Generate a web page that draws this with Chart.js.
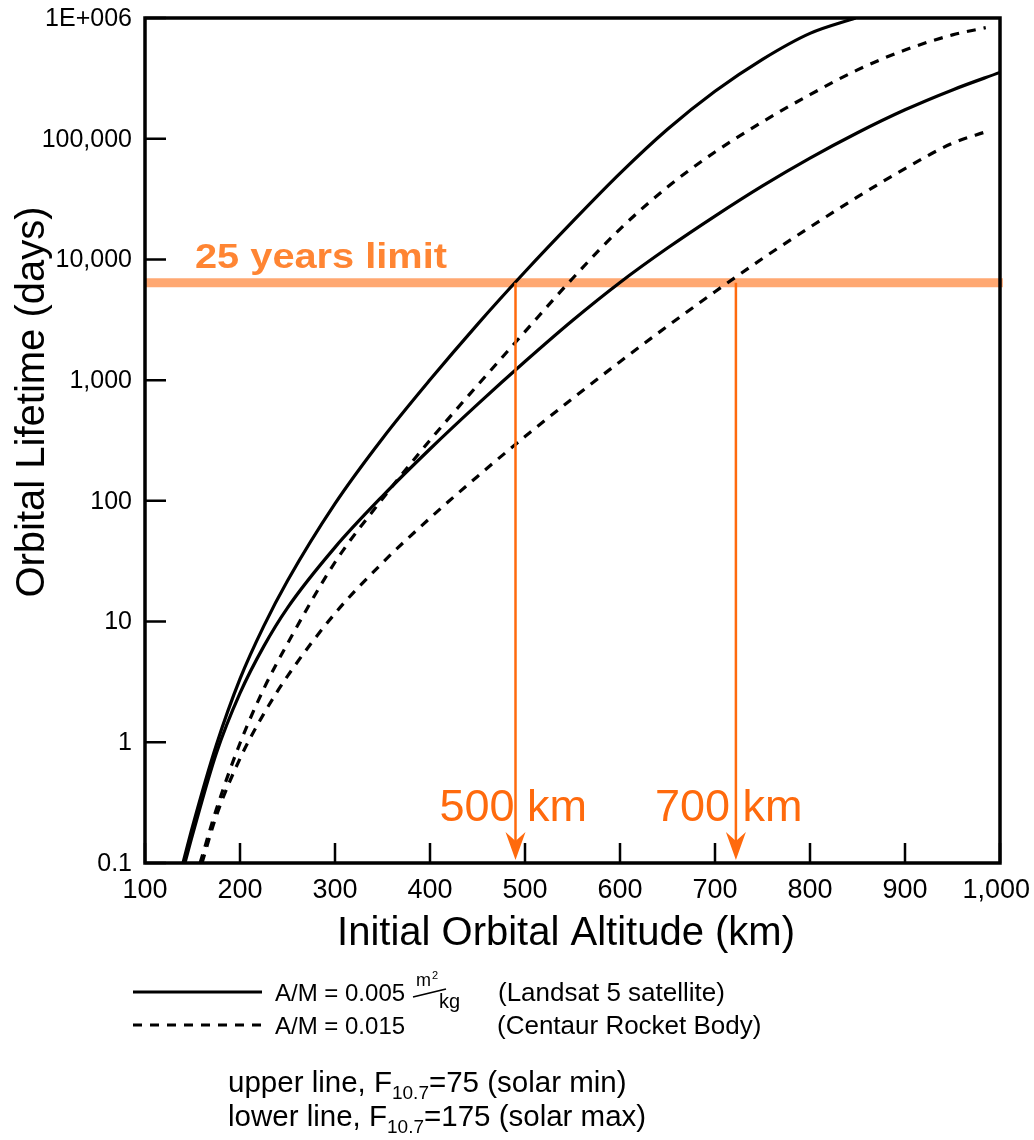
<!DOCTYPE html>
<html>
<head>
<meta charset="utf-8">
<title>Orbital Lifetime vs Initial Altitude</title>
<script src="https://cdn.jsdelivr.net/npm/chart.js@4.4.1/dist/chart.umd.min.js"></script>
<style>
  html, body { margin: 0; padding: 0; background: #fff; }
</style>
</head>
<body>
<canvas id="lifetimeChart" width="1034" height="1140"></canvas>
<script>
// Orbital lifetime (days) against initial altitude (km)
// A/M = 0.005 m2/kg (Landsat 5), solar min (upper) and solar max (lower)
const altLandsatMin = [140, 150, 175, 200, 225, 250, 300, 350, 400, 450, 500, 550, 600, 650, 700, 750, 800, 848];
const daysLandsatMin = [0.1, 0.2, 0.944, 3.35, 9.17, 21.8, 94.9, 329, 1006, 2900, 7900, 20540, 51580, 119600, 246900, 454500, 745700, 1000000];
const altLandsatMax = [142, 150, 175, 200, 225, 250, 300, 350, 400, 450, 500, 550, 600, 650, 700, 750, 800, 850, 900, 950, 1000];
const daysLandsatMax = [0.1, 0.171, 0.807, 2.55, 6.23, 13.0, 41.2, 109.5, 269, 630, 1427, 3122, 6449, 12430, 22880, 40690, 69090, 112100, 173600, 253800, 354400];

// A/M = 0.015 (Centaur rocket body)
const altCentaurMin = [158, 175, 200, 225, 250, 300, 350, 400, 450, 500, 550, 600, 650, 700, 750, 800, 850, 900, 950, 985];
const daysCentaurMin = [0.1, 0.277, 0.982, 2.77, 6.56, 31.0, 104, 318, 906, 2523, 6950, 17860, 39810, 77620, 138000, 231700, 371500, 543300, 724400, 831800];
const altCentaurMax = [160, 175, 200, 225, 250, 300, 350, 400, 450, 500, 550, 600, 650, 700, 750, 800, 850, 900, 950, 986];
const daysCentaurMax = [0.1, 0.245, 0.733, 1.72, 3.53, 11.68, 30.7, 72.0, 159.4, 340.8, 703.9, 1421, 2803, 5401, 10170, 18510, 32920, 56560, 91730, 114800];

// 25-year limit line and the altitudes marked below it
const limitDays = 6400;
const dropAltitudes = [490, 722];
const dropLabels = ['500 km', '700 km'];

const xTicks = [100, 200, 300, 400, 500, 600, 700, 800, 900, 1000];
const xTickLabels = ['100', '200', '300', '400', '500', '600', '700', '800', '900', '1,000'];
const yTicks = [0.1, 1, 10, 100, 1000, 10000, 100000, 1000000];
const yTickLabels = ['0.1', '1', '10', '100', '1,000', '10,000', '100,000', '1E+006'];

const FONT = '"Liberation Sans", Arial, Helvetica, sans-serif';
const ORANGE = '#ff6a0d';

function toPoints(alts, days) {
    return alts.map((a, i) => ({ x: a, y: days[i] }));
}

function fitText(ctx, str, x, y, width) {
    const w = ctx.measureText(str).width;
    ctx.save();
    ctx.translate(x, y);
    ctx.scale(width / w, 1);
    ctx.fillText(str, 0, 0);
    ctx.restore();
}

// draw a run of text pieces (used for subscripts)
function textRun(ctx, parts, x, y) {
    parts.forEach(p => {
        ctx.font = p.font;
        ctx.fillText(p.text, x, y + (p.dy || 0));
        x += ctx.measureText(p.text).width;
    });
}

function curve(data, dashed) {
    return {
        data: data,
        borderColor: '#000',
        borderWidth: 3.2,
        borderDash: dashed ? [9, 8] : [],
        pointRadius: 0,
        fill: false,
        cubicInterpolationMode: 'monotone'
    };
}

const axesPlugin = {
    id: 'axesFrame',
    afterDatasetsDraw(chart) {
        const { ctx, chartArea: a, scales: { x, y } } = chart;
        ctx.save();

        // inward tick marks
        ctx.strokeStyle = '#000';
        ctx.lineWidth = 2.5;
        ctx.beginPath();
        xTicks.forEach(v => {
            const px = x.getPixelForValue(v);
            ctx.moveTo(px, a.bottom);
            ctx.lineTo(px, a.bottom - 20);
        });
        yTicks.forEach(v => {
            const py = y.getPixelForValue(v);
            ctx.moveTo(a.left, py);
            ctx.lineTo(a.left + 21, py);
        });
        ctx.stroke();

        ctx.lineWidth = 3.5;
        ctx.strokeRect(a.left, a.top, a.right - a.left, a.bottom - a.top);

        // tick labels
        ctx.fillStyle = '#000';
        ctx.font = `25px ${FONT}`;
        ctx.textAlign = 'right';
        ctx.textBaseline = 'middle';
        yTicks.forEach((v, i) => ctx.fillText(yTickLabels[i], a.left - 13, y.getPixelForValue(v) + 1));

        ctx.font = `27px ${FONT}`;
        ctx.textAlign = 'center';
        ctx.textBaseline = 'top';
        xTicks.forEach((v, i) => {
            const w = ctx.measureText(xTickLabels[i]).width;
            const px = Math.min(x.getPixelForValue(v), chart.width - 4 - w / 2);
            ctx.fillText(xTickLabels[i], px, a.bottom + 14);
        });

        // axis titles
        ctx.textBaseline = 'alphabetic';
        ctx.font = `40px ${FONT}`;
        ctx.fillText('Initial Orbital Altitude (km)', 566, 945);
        ctx.save();
        ctx.translate(44, 402);
        ctx.rotate(-Math.PI / 2);
        ctx.font = `40px ${FONT}`;
        ctx.fillText('Orbital Lifetime (days)', 0, 0);
        ctx.restore();

        // 25-year limit label
        ctx.textAlign = 'left';
        ctx.fillStyle = '#ff8533';
        ctx.font = `bold 35px ${FONT}`;
        fitText(ctx, '25 years limit', 195, 268, 252);

        // drop arrows from the limit line to the altitude axis
        const limitY = y.getPixelForValue(limitDays);
        const labelShift = [76, 81];
        ctx.strokeStyle = ORANGE;
        ctx.fillStyle = ORANGE;
        ctx.lineWidth = 2.5;
        ctx.font = `45px ${FONT}`;
        dropAltitudes.forEach((alt, i) => {
            const px = x.getPixelForValue(alt);
            const tip = a.bottom - 3;
            ctx.beginPath();
            ctx.moveTo(px, limitY);
            ctx.lineTo(px, tip - 18);
            ctx.stroke();
            ctx.beginPath();
            ctx.moveTo(px - 10, tip - 28);
            ctx.lineTo(px, tip - 19);
            ctx.lineTo(px + 10, tip - 28);
            ctx.lineTo(px, tip);
            ctx.closePath();
            ctx.fill();
            ctx.fillText(dropLabels[i], px - labelShift[i], 821);
        });

        ctx.restore();
    },
    afterDraw(chart) {
        const ctx = chart.ctx;
        ctx.save();
        ctx.strokeStyle = '#000';
        ctx.fillStyle = '#000';
        ctx.lineWidth = 3;

        // legend samples
        ctx.beginPath();
        ctx.moveTo(133, 992);
        ctx.lineTo(262, 992);
        ctx.stroke();
        ctx.setLineDash([9, 8]);
        ctx.beginPath();
        ctx.moveTo(133, 1025);
        ctx.lineTo(262, 1025);
        ctx.stroke();
        ctx.setLineDash([]);

        ctx.textAlign = 'left';
        ctx.textBaseline = 'alphabetic';
        ctx.font = `24px ${FONT}`;
        ctx.fillText('A/M = 0.005', 275, 1001);
        ctx.fillText('A/M = 0.015', 275, 1034);

        // m^2 / kg fraction
        ctx.font = `18px ${FONT}`;
        ctx.fillText('m', 416, 986);
        ctx.font = `11px ${FONT}`;
        ctx.fillText('2', 432, 979);
        ctx.lineWidth = 1.6;
        ctx.beginPath();
        ctx.moveTo(413, 997);
        ctx.lineTo(446, 989);
        ctx.stroke();
        ctx.font = `20px ${FONT}`;
        ctx.fillText('kg', 439, 1008);

        ctx.font = `26px ${FONT}`;
        ctx.fillText('(Landsat 5 satellite)', 498, 1001);
        ctx.fillText('(Centaur Rocket Body)', 497, 1034);

        const big = `29.5px ${FONT}`, sub = `19px ${FONT}`;
        textRun(ctx, [
            { text: 'upper line, F', font: big },
            { text: '10.7', font: sub, dy: 7 },
            { text: '=75 (solar min)', font: big }
        ], 228, 1092);
        textRun(ctx, [
            { text: 'lower line, F', font: big },
            { text: '10.7', font: sub, dy: 7 },
            { text: '=175 (solar max)', font: big }
        ], 228, 1126);

        ctx.restore();
    }
};

new Chart(document.getElementById('lifetimeChart'), {
    type: 'line',
    data: {
        datasets: [
            curve(toPoints(altLandsatMin, daysLandsatMin), false),
            curve(toPoints(altLandsatMax, daysLandsatMax), false),
            curve(toPoints(altCentaurMin, daysCentaurMin), true),
            curve(toPoints(altCentaurMax, daysCentaurMax), true),
            {
                // 25-year limit band
                data: [{ x: 100, y: limitDays }, { x: 1003, y: limitDays }],
                borderColor: 'rgba(255, 110, 20, 0.6)',
                borderWidth: 9,
                pointRadius: 0,
                fill: false,
                clip: false
            }
        ]
    },
    options: {
        responsive: false,
        devicePixelRatio: 1,
        animation: false,
        layout: { padding: { left: 145, right: 34, top: 18, bottom: 277 } },
        plugins: {
            legend: { display: false },
            tooltip: { enabled: false }
        },
        scales: {
            x: { type: 'linear', min: 100, max: 1000, display: false },
            y: { type: 'logarithmic', min: 0.1, max: 1000000, display: false }
        }
    },
    plugins: [axesPlugin]
});
</script>
</body>
</html>
